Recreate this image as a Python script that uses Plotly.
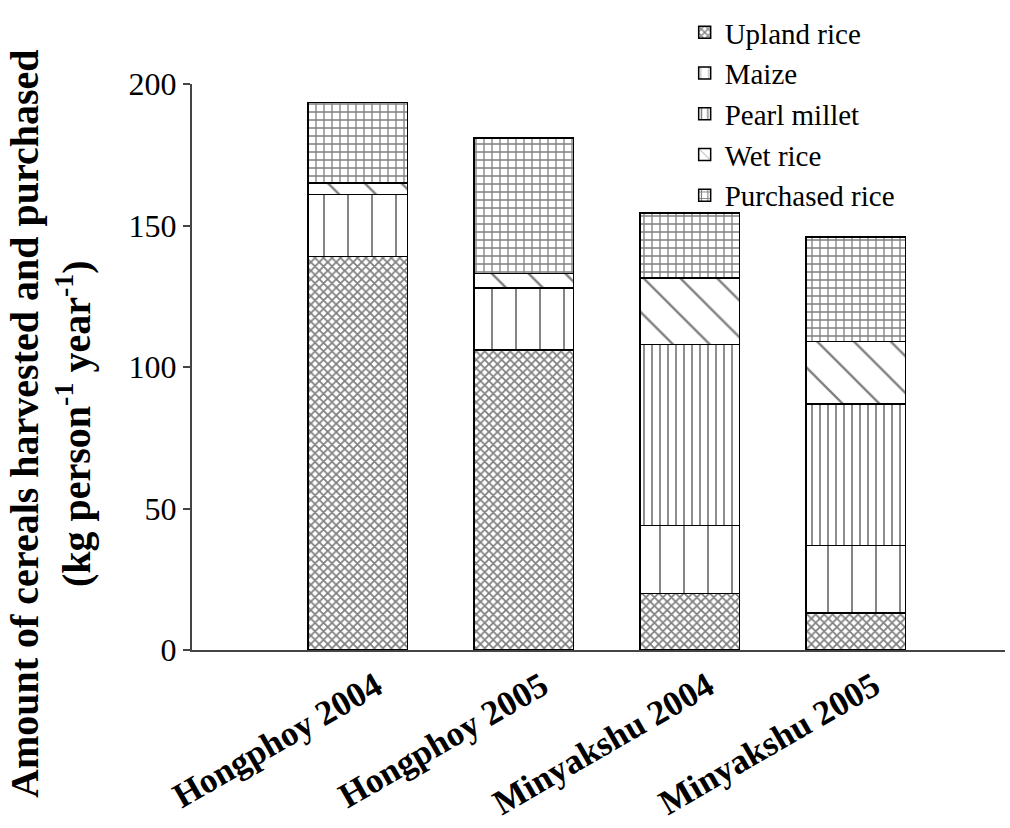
import plotly.graph_objects as go

categories = ["Hongphoy 2004", "Hongphoy 2005", "Minyakshu 2004", "Minyakshu 2005"]
upland_rice = [139, 106, 20, 13]
maize = [22, 22, 24, 24]
pearl_millet = [0, 0, 64, 50]
wet_rice = [4, 5, 23.5, 22]
purchased_rice = [28.5, 48, 23, 37]

series = [
    ("Upland rice", upland_rice, dict(shape="x", size=6, solidity=0.5)),
    ("Maize", maize, dict(shape="|", size=24, solidity=0.08)),
    ("Pearl millet", pearl_millet, dict(shape="|", size=8, solidity=0.22)),
    ("Wet rice", wet_rice, dict(shape="\\", size=26, solidity=0.09)),
    ("Purchased rice", purchased_rice, dict(shape="+", size=8, solidity=0.3)),
]

FONT = "'Liberation Serif', 'Times New Roman', Times, serif"

fig = go.Figure()
for name, vals, pat in series:
    fig.add_trace(go.Bar(
        x=categories, y=vals, name=name, width=0.6,
        marker=dict(color="white",
                    line=dict(color="black", width=1.5),
                    pattern=dict(fgcolor="black", bgcolor="white", **pat)),
    ))

fig.update_layout(
    barmode="stack",
    width=1010, height=828,
    margin=dict(l=192, r=5, t=84, b=167),
    paper_bgcolor="white", plot_bgcolor="white",
    font=dict(family=FONT, color="black"),
    showlegend=True,
    legend=dict(x=0.606, y=1.136, xanchor="left", yanchor="top",
                traceorder="normal", font=dict(family=FONT, size=29),
                bgcolor="rgba(0,0,0,0)", tracegroupgap=0, itemwidth=30),
    xaxis=dict(range=[-1, 3.9], showline=True, linecolor="#444", linewidth=2,
               ticks="", tickangle=-30, ticklabelshift=18,
               tickfont=dict(family=FONT, size=35, weight="bold"),
               showgrid=False, zeroline=False),
    yaxis=dict(range=[0, 200], dtick=50, showline=True, linecolor="#444", linewidth=2,
               ticks="outside", ticklen=7, tickcolor="#444", tickwidth=1.5,
               tickfont=dict(family=FONT, size=32),
               showgrid=False, zeroline=False),
    annotations=[dict(
        text="Amount of cereals harvested and purchased<br>(kg person<sup>-1</sup> year<sup>-1</sup>)",
        xref="paper", yref="paper", x=-0.1747, y=0.401,
        xanchor="center", yanchor="middle", textangle=-90, showarrow=False,
        font=dict(family=FONT, size=40, weight="bold", color="black"),
    )],
)

fig.write_html("out.html")
